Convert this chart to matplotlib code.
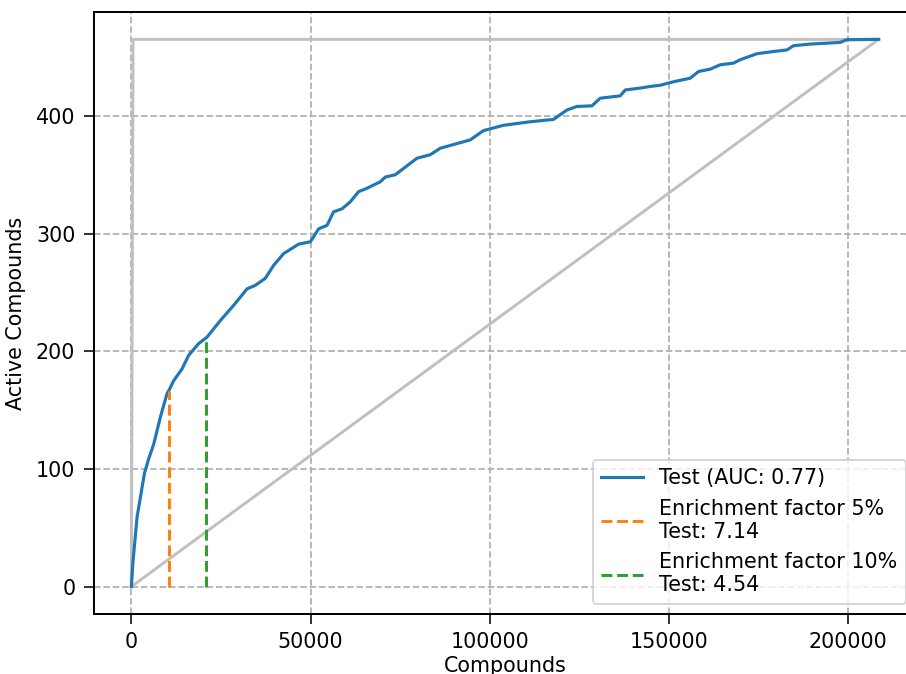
import matplotlib
matplotlib.use("Agg")
import matplotlib.pyplot as plt

n_compounds = 208500
n_actives = 465

curve_x = [0, 470, 1590, 3630, 4830, 6230, 8090, 9950, 10700, 11800, 14140, 15990,
           18770, 21100, 24800, 28540, 32270, 34590, 37380, 39700, 42490, 46670,
           49930, 52250, 54600, 56430, 58770, 61090, 63400, 65740, 69460, 70850,
           73640, 79690, 83400, 86190, 94560, 98270, 103850, 111300, 117800,
           121530, 124320, 128500, 130820, 136400, 137800, 141980, 144770, 147560,
           151280, 155930, 158260, 161500, 164300, 168000, 169880, 174530, 179180,
           182900, 184760, 189400, 197770, 199640, 208500]
curve_y = [0, 22, 59, 96, 108.6, 121, 144, 164, 168, 175, 185, 196.6,
           206.5, 212, 226, 239, 253, 256, 262, 273, 283, 291,
           293, 304, 307, 318.5, 321, 327, 335.6, 338.5, 344, 348,
           350, 364, 367, 372.5, 379.6, 387.5, 392, 395, 397,
           405, 408, 408.5, 415, 417, 422, 423.6, 425, 426,
           429, 432, 437.7, 439.7, 443.4, 444.8, 447.7, 452.8, 454.7,
           456, 459.6, 461, 462.4, 464.7, 465]

auc_label = "Test (AUC: 0.77)"
ef_fracs = [0.05, 0.10]
ef_hits = [166, 211]
ef_values = [7.14, 4.54]
ef_pcts = ["5%", "10%"]
ef_colors = ["C1", "C2"]

plt.rcParams["font.size"] = 10.5
plt.rcParams["xtick.major.size"] = 5
plt.rcParams["ytick.major.size"] = 5
plt.rcParams["xtick.major.pad"] = 4.2
plt.rcParams["ytick.major.pad"] = 4.5
plt.rcParams["axes.linewidth"] = 1.0

fig = plt.figure(figsize=(906 / 141.5, 674 / 141.5), dpi=141.5)
ax = fig.add_axes([94 / 906, 60 / 674, 822 / 906, 602 / 674])

gray = "#c0c0c0"
ax.plot([0, n_actives, n_compounds], [0, n_actives, n_actives], color=gray, lw=1.5)
ax.plot([0, n_compounds], [0, n_actives], color=gray, lw=1.5)
ax.plot(curve_x, curve_y, color="C0", lw=1.6, label=auc_label)
for frac, hits, val, pct, col in zip(ef_fracs, ef_hits, ef_values, ef_pcts, ef_colors):
    xx = frac * n_compounds
    ax.plot([xx, xx], [0, hits], color=col, ls="--", lw=1.5,
            label=f"Enrichment factor {pct}\nTest: {val:.2f}")

ax.grid(True, linestyle="--", color="#b0b0b0", lw=0.9)
ax.set_axisbelow(True)
ax.set_xlim(-0.05 * n_compounds, 1.05 * n_compounds)
ax.set_ylim(-0.05 * n_actives, 1.05 * n_actives)
ax.set_xticks([0, 50000, 100000, 150000, 200000])
ax.set_yticks([0, 100, 200, 300, 400])
ax.set_xlabel("Compounds", labelpad=2.0)
ax.set_ylabel("Active Compounds", labelpad=5.0)
ax.legend(loc="lower right")

fig.savefig("out.png", dpi=141.5)
